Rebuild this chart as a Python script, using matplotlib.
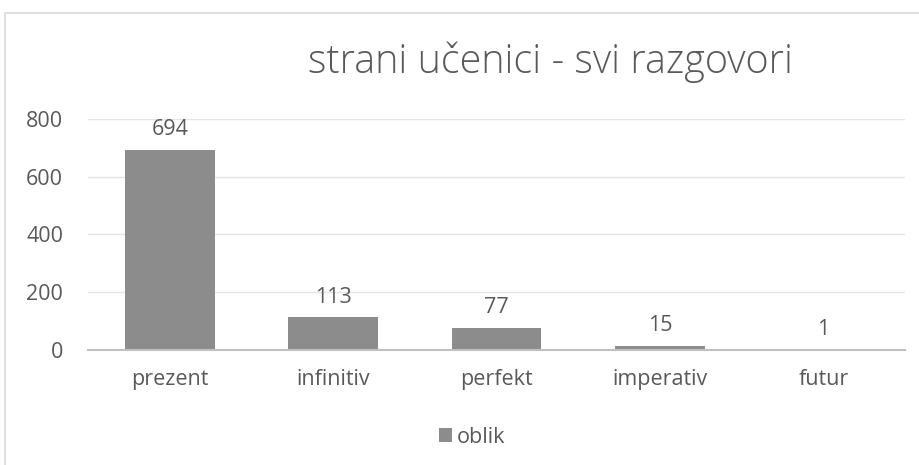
import matplotlib.pyplot as plt
from matplotlib.patches import Rectangle

categories = ['prezent', 'infinitiv', 'perfekt', 'imperativ', 'futur']
counts = [694, 113, 77, 15, 1]
series_name = 'oblik'
title = 'strani učenici - svi razgovori'

txt = '#595959'
bar_color = '#8c8c8c'
plt.rcParams['font.family'] = ['Open Sans', 'DejaVu Sans']

fig = plt.figure(figsize=(9.19, 4.65), dpi=100)
ax = fig.add_axes([0.0958, 0.2473, 0.889, 0.4968])

# outer chart frame
fig.patches.append(Rectangle((5 / 919, -0.1), 1.2, 1 - 13 / 465 + 0.1,
                             transform=fig.transFigure, fill=False,
                             edgecolor='#d9d9d9', linewidth=1.2))

x = range(len(categories))
bars = ax.bar(x, counts, width=0.55, color=bar_color, label=series_name, zorder=3)
for xi, v in zip(x, counts):
    ax.annotate(str(v), (xi, v), xytext=(0, 7), textcoords='offset points',
                ha='center', va='bottom', fontsize=15.5, color=txt)

ax.set_xlim(-0.5, len(categories) - 0.5)
ax.set_ylim(0, 800)
ax.set_yticks(range(0, 801, 200))
ax.set_xticks(list(x))
ax.set_xticklabels(categories)
ax.tick_params(axis='both', length=0, labelsize=15.5, labelcolor=txt)
ax.tick_params(axis='y', pad=18)
ax.tick_params(axis='x', pad=14)
ax.grid(axis='y', color='#e5e5e5', linewidth=1, zorder=0)
for s in ['top', 'right', 'left']:
    ax.spines[s].set_visible(False)
ax.spines['bottom'].set_color('#c0c0c0')
ax.spines['bottom'].set_linewidth(1.5)
ax.spines['bottom'].set_zorder(4)

fig.text(551 / 919, 1 - 62 / 465, title, ha='center', va='center',
         fontsize=28.5, color=txt, fontweight='light')

fig.legend(handles=[bars], labels=[series_name], loc='center',
           bbox_to_anchor=(472 / 919, 1 - 437 / 465), frameon=False,
           fontsize=15.5, labelcolor=txt, handlelength=0.6, handleheight=0.6,
           handletextpad=0.25)

fig.savefig('out.png', dpi=100)
